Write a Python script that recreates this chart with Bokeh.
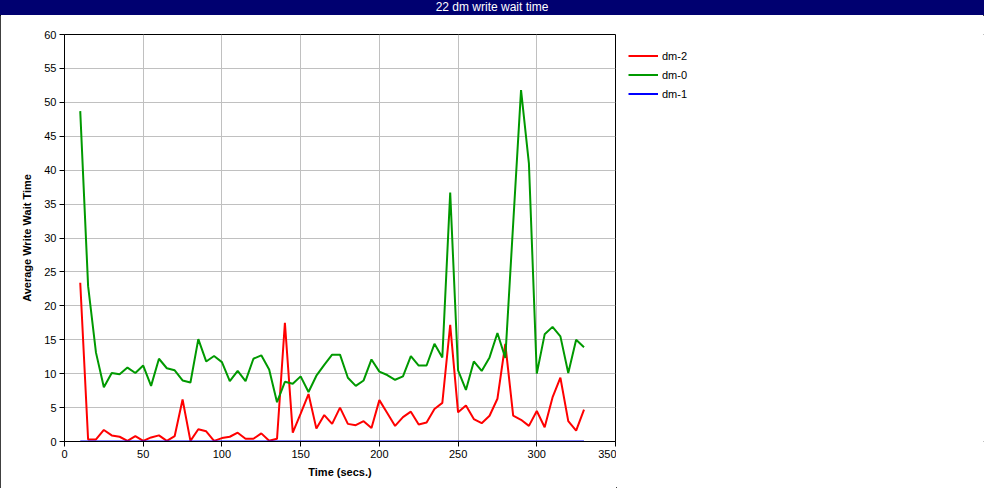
from bokeh.plotting import figure
from bokeh.models import FixedTicker, Legend, LegendItem, Div
from bokeh.layouts import column, row
from bokeh.embed import file_html
from bokeh.resources import INLINE

time_secs = [10, 15, 20, 25, 30, 35, 40, 45, 50, 55, 60, 65, 70, 75, 80, 85, 90, 95,
             100, 105, 110, 115, 120, 125, 130, 135, 140, 145, 150, 155, 160, 165,
             170, 175, 180, 185, 190, 195, 200, 205, 210, 215, 220, 225, 230, 235,
             240, 245, 250, 255, 260, 265, 270, 275, 280, 285, 290, 295, 300, 305,
             310, 315, 320, 325, 330]

dm2 = [23.4, 0.3, 0.3, 1.7, 0.9, 0.7, 0.1, 0.8, 0.1, 0.6, 0.9, 0.1, 0.8, 6.2, 0.1,
       1.8, 1.5, 0.1, 0.5, 0.7, 1.3, 0.4, 0.4, 1.2, 0.1, 0.4, 17.5, 1.3, 4.1, 7.0,
       1.9, 3.9, 2.6, 5.0, 2.6, 2.4, 3.0, 2.0, 6.1, 4.2, 2.3, 3.6, 4.4, 2.5, 2.8,
       4.8, 5.7, 17.2, 4.3, 5.3, 3.3, 2.7, 3.8, 6.3, 14.4, 3.8, 3.2, 2.3, 4.5, 2.1,
       6.5, 9.4, 3.0, 1.6, 4.7]

dm0 = [48.7, 22.9, 13.1, 8.0, 10.1, 9.9, 10.9, 10.1, 11.2, 8.2, 12.2, 10.8, 10.5,
       9.0, 8.7, 15.1, 11.8, 12.6, 11.7, 8.9, 10.4, 8.9, 12.2, 12.7, 10.6, 5.8,
       8.8, 8.5, 9.6, 7.3, 9.7, 11.3, 12.8, 12.8, 9.4, 8.2, 9.0, 12.1, 10.3, 9.8,
       9.1, 9.6, 12.6, 11.2, 11.2, 14.4, 12.4, 36.7, 10.5, 7.6, 11.8, 10.4, 12.4,
       16.0, 12.3, 32.1, 51.8, 41.0, 10.0, 15.8, 16.9, 15.5, 10.1, 15.0, 13.9]

dm1 = [0.0] * len(time_secs)

series_names = ["dm-2", "dm-0", "dm-1"]
series_colors = ["#ff0000", "#009900", "#0000ff"]

x_ticks = [0, 50, 100, 150, 200, 250, 300, 350]
y_ticks = [0, 5, 10, 15, 20, 25, 30, 35, 40, 45, 50, 55, 60]

chart_title = "22 dm write wait time"
FONT = "Liberation Sans"

W = 984
TITLE_H = 15
H = 488 - TITLE_H
PW = 616  # main plot width (frame right edge at 615)

title_div = Div(text=chart_title, width=W, height=TITLE_H, margin=0,
                styles={"background-color": "#000070", "color": "white",
                        "text-align": "center", "font-family": FONT,
                        "font-size": "12px", "line-height": f"{TITLE_H}px",
                        "width": f"{W}px", "height": f"{TITLE_H}px",
                        "overflow": "hidden", "box-sizing": "border-box"})

p = figure(width=PW, height=H, x_range=(0, 350), y_range=(0, 60),
           output_backend="svg", toolbar_location=None,
           min_border_left=64, min_border_right=1, min_border_top=19,
           min_border_bottom=47, margin=0)

series_values = [dm2, dm0, dm1]
for ys, color in zip(series_values, series_colors):
    p.line(time_secs, ys, line_color=color, line_width=2)

p.outline_line_color = "black"
p.outline_line_width = 1
p.background_fill_color = "white"
p.border_fill_color = "white"

p.xaxis.ticker = FixedTicker(ticks=x_ticks)
p.yaxis.ticker = FixedTicker(ticks=y_ticks)
for ax in (p.xaxis[0], p.yaxis[0]):
    ax.axis_line_color = "black"
    ax.major_tick_line_color = "black"
    ax.major_tick_out = 5
    ax.major_tick_in = 0
    ax.minor_tick_line_color = None
    ax.major_label_text_font = FONT
    ax.major_label_text_font_size = "11px"
    ax.major_label_text_color = "black"
    ax.axis_label_text_font = FONT
    ax.axis_label_text_font_size = "11px"
    ax.axis_label_text_font_style = "bold"
    ax.axis_label_text_color = "black"
    ax.major_label_standoff = 3
p.xaxis.axis_label = "Time (secs.)"
p.yaxis.axis_label = "Average Write Wait Time"
p.xaxis.axis_label_standoff = 5
p.yaxis.axis_label_standoff = 8

p.grid.grid_line_color = "#c0c0c0"
p.grid.grid_line_width = 1

# legend panel: a plain figure whose view range lies outside the data,
# so its copies of the series only serve as legend entries
lg = figure(width=W - PW, height=H, output_backend="svg", toolbar_location=None,
            title=None, min_border=0, min_border_top=6, margin=0,
            x_axis_type=None, y_axis_type=None,
            x_range=(-20, -10), y_range=(-20, -10))
lg.outline_line_color = None
lg.grid.visible = False
lg.border_fill_color = "white"
lg.background_fill_color = "white"
legend_renderers = [lg.line(time_secs, ys, line_color=c, line_width=2)
                    for ys, c in zip(series_values, series_colors)]
legend = Legend(items=[LegendItem(label=n, renderers=[r]) for n, r in zip(series_names, legend_renderers)],
                location="top_left", border_line_color=None, background_fill_alpha=0,
                padding=0, margin=12, spacing=0, glyph_width=30, glyph_height=19,
                label_height=19, label_standoff=4, label_text_font=FONT,
                label_text_font_size="11px", label_text_color="black")
lg.add_layout(legend, "center")

layout = column(title_div, row(p, lg, spacing=0, margin=0), spacing=0, margin=0,
                styles={"outline": "1px solid black", "outline-offset": "-1px"})

open("out.html", "w").write(file_html(layout, INLINE))
